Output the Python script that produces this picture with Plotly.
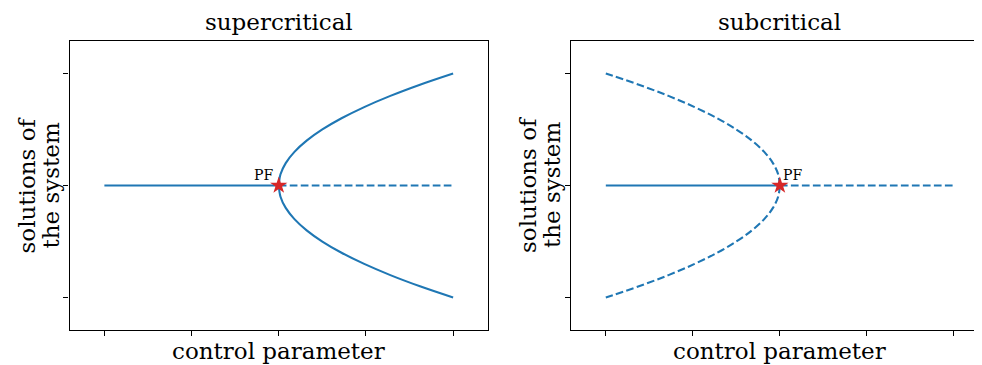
import plotly.graph_objects as go

# ---- data ----
stable_x = [-1.0, 0.0]
stable_y = [0.0, 0.0]
unstable_x = [0.0, 1.0]
unstable_y = [0.0, 0.0]
# supercritical branches: control parameter vs. solution
branch_x_super = [0.0, 0.01, 0.04, 0.09, 0.16, 0.25, 0.36, 0.49, 0.64, 0.81, 1.0]
branch_y_upper = [0.0, 0.1, 0.2, 0.3, 0.4, 0.5, 0.6, 0.7, 0.8, 0.9, 1.0]
branch_y_lower = [0.0, -0.1, -0.2, -0.3, -0.4, -0.5, -0.6, -0.7, -0.8, -0.9, -1.0]
# subcritical branches
branch_x_sub = [0.0, -0.01, -0.04, -0.09, -0.16, -0.25, -0.36, -0.49, -0.64, -0.81, -1.0]
pf_x = [0.0]
pf_y = [0.0]
x_ticks = [-1.0, -0.5, 0.0, 0.5, 1.0]
y_ticks = [-1.0, 0.0, 1.0]
titles = ["supercritical", "subcritical"]
xlabel = "control parameter"
ylabel_lines = ["solutions of", "the system"]

BLUE = "#1f77b4"
RED = "#d62728"
DASH = "7.7px,3.3px"
FONT = "DejaVu Serif"
FS = 23

# The page body has an 8px margin, so the figure is 8px smaller on each side.
W, H = 974, 357
OFF = 8

def px(xp):  # page x pixel -> paper fraction
    return (xp - OFF) / W

def py(yp):  # page y pixel -> paper fraction
    return 1 - (yp - OFF) / H

fig = go.Figure()

def add_line(x, y, ax, dash="solid"):
    fig.add_trace(go.Scatter(
        x=x, y=y, mode="lines", xaxis="x" + ax, yaxis="y" + ax,
        line=dict(color=BLUE, width=2.1, dash=dash, shape="spline", smoothing=1.0),
        showlegend=False, hoverinfo="skip"))

# supercritical
add_line(stable_x, stable_y, "")
add_line(unstable_x, unstable_y, "", DASH)
add_line(branch_x_super, branch_y_upper, "")
add_line(branch_x_super, branch_y_lower, "")
# subcritical
add_line(stable_x, stable_y, "2")
add_line(unstable_x, unstable_y, "2", DASH)
add_line(branch_x_sub, branch_y_upper, "2", DASH)
add_line(branch_x_sub, branch_y_lower, "2", DASH)

for ax in ["", "2"]:
    fig.add_trace(go.Scatter(
        x=pf_x, y=pf_y, mode="markers", xaxis="x" + ax, yaxis="y" + ax,
        marker=dict(symbol="star", color=RED, size=13, line=dict(width=0)),
        showlegend=False, hoverinfo="skip"))

axis_common = dict(
    showgrid=False, zeroline=False, showline=True, linecolor="black", linewidth=1.2,
    mirror=True, ticks="outside", ticklen=5, tickwidth=1.2, tickcolor="black",
    showticklabels=False, automargin=False,
)
ydom = [py(330), py(41)]
fig.update_layout(
    width=W, height=H,
    margin=dict(l=0, r=0, t=0, b=0),
    paper_bgcolor="white", plot_bgcolor="white",
    font=dict(family=FONT, color="black"),
    xaxis=dict(domain=[px(69.5), px(488)], range=[-1.2, 1.2], tickvals=x_ticks, **axis_common),
    yaxis=dict(domain=ydom, range=[-1.29, 1.29], tickvals=y_ticks, **axis_common),
    xaxis2=dict(domain=[px(571), 1.0], range=[-1.2, 1.161], tickvals=x_ticks, anchor="y2", **axis_common),
    yaxis2=dict(domain=ydom, range=[-1.29, 1.29], tickvals=y_ticks, anchor="x2", **axis_common),
)

# subplot titles and axis labels as annotations (precise placement)
x2_center = 1.2 / (1.2 + 1.161)
for ax, cx, title, dx in [("", 0.5, titles[0], 0), ("2", x2_center, titles[1], 501.5)]:
    fig.add_annotation(text=title, x=cx, y=1.0, xref=f"x{ax} domain", yref=f"y{ax} domain",
                       xanchor="center", yanchor="bottom", yshift=4, showarrow=False,
                       font=dict(size=FS, family=FONT))
    fig.add_annotation(text=xlabel, x=cx, y=0.0, xref=f"x{ax} domain", yref=f"y{ax} domain",
                       xanchor="center", yanchor="top", yshift=-6, showarrow=False,
                       font=dict(size=FS, family=FONT))
    for line, xc in zip(ylabel_lines, [26, 50]):
        fig.add_annotation(text=line, x=px(xc + dx), y=0.5, xref="paper", yref=f"y{ax} domain",
                           xanchor="center", yanchor="middle", showarrow=False, textangle=-90,
                           font=dict(size=FS, family=FONT))

# PF labels
fig.add_annotation(text="PF", x=pf_x[0], y=pf_y[0], xref="x", yref="y", xanchor="right", yanchor="bottom",
                   xshift=-4, yshift=1, showarrow=False, font=dict(size=14, family=FONT))
fig.add_annotation(text="PF", x=pf_x[0], y=pf_y[0], xref="x2", yref="y2", xanchor="left", yanchor="bottom",
                   xshift=1, yshift=1, showarrow=False, font=dict(size=14, family=FONT))

fig.write_html("out.html")
